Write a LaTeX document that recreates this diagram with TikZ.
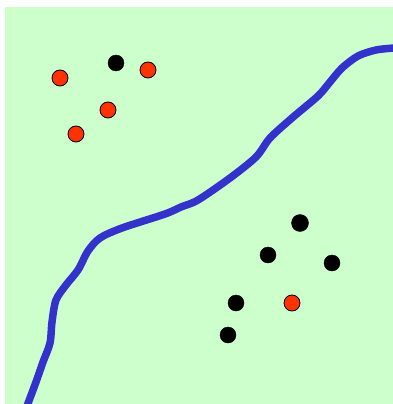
\documentclass[tikz,border=0pt]{standalone}
\usepackage{tikz}
\usetikzlibrary{calc}

\definecolor{field}{HTML}{CCFFCC}
\definecolor{border}{HTML}{3333CC}
\definecolor{reddot}{HTML}{FF3300}

\tikzset{
  blackpt/.style={circle, fill=black, draw=black, inner sep=0pt, minimum size=16pt},
  redpt/.style={circle, fill=reddot, draw=black, line width=0.8pt, inner sep=0pt, minimum size=16pt}
}

\begin{document}
\begin{tikzpicture}[x=1pt, y=-1pt]
     \useasboundingbox (0,0) rectangle (393,404);
     \fill[field] (5,7) rectangle (393,404);

     % dividing line
     \draw[border, line width=7.5pt, line join=round] plot[smooth, tension=0.5] coordinates {
       (27,406) (36,382) (43,362) (50,343) (52,322) (56,300) (66,285) (78,270)
       (88,251) (100,238) (122,228) (165,214) (181,207) (198,200) (230,178)
       (256,157) (270,138) (292,118) (318,96) (330,82) (342,68) (358,56) (376,50) (394,48)};

     \node[redpt]   (RA) at (60,78) {};
     \node[blackpt] (BA) at (116,63) {};
     \node[redpt]   (RB) at (148,70) {};
     \node[redpt]   (RC) at (108,110) {};
     \node[redpt]   (RD) at (76,134) {};

     \node[blackpt, minimum size=17pt] (BB) at (300,223) {};
     \node[blackpt] (BC) at (268,255) {};
     \node[blackpt] (BD) at (332,263) {};
     \node[blackpt] (BE) at (236,303) {};
     \node[redpt]   (RE) at (292,303) {};
     \node[blackpt] (BF) at (228,335) {};

  \end{tikzpicture}
\end{document}
